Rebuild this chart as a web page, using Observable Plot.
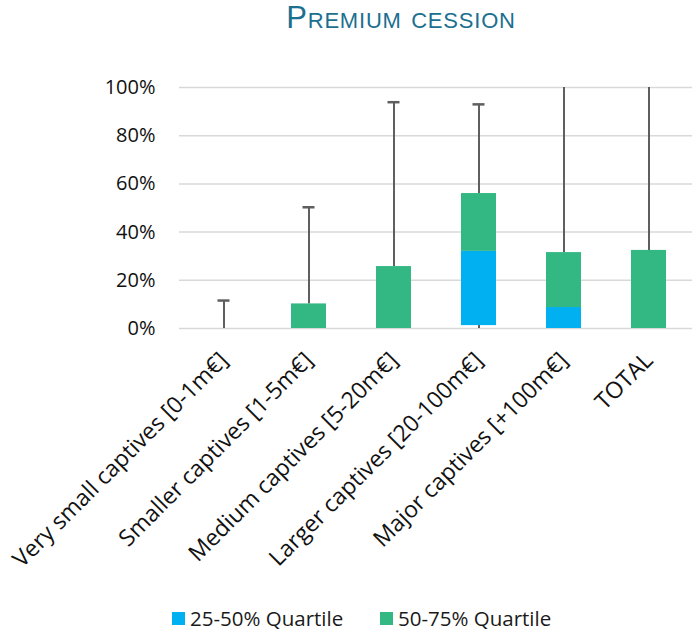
<!DOCTYPE html>
<html>
<head>
<meta charset="utf-8">
<script src="https://cdn.jsdelivr.net/npm/d3@7"></script>
<script src="https://cdn.jsdelivr.net/npm/@observablehq/plot@0.6"></script>
<style>
  body { margin: 0; background: #fff; }
  #wrap { width: 694px; position: relative; }
  #title { position: relative; height: 50px; }
  #title span { position: absolute; left: 401px; top: 2px; transform: translateX(-50%);
    font-family: "Liberation Sans", Arial, sans-serif; font-size: 31px; line-height: 31px; letter-spacing: 0.8px;
    font-variant: small-caps; color: #1B6F8F; white-space: nowrap; }
  #legend { position: relative; height: 36px; font-family: "Open Sans", sans-serif; font-size: 20.5px; color: #1a1a1a; }
  .item { position: absolute; top: 9px; display: flex; align-items: center; white-space: nowrap; }
  .sw { width: 13px; height: 13px; margin-right: 5px; }
</style>
</head>
<body>
<div id="wrap">
  <div id="title"><span>Premium cession</span></div>
  <div id="chart"></div>
  <div id="legend"></div>
</div>
<script>
const categories = ["Very small captives [0-1m€]", "Smaller captives [1-5m€]", "Medium captives [5-20m€]", "Larger captives [20-100m€]", "Major captives [+100m€]", "TOTAL"];
const minimum = [0, 0, 0, 0, 0, 0];
const q1 = [0, 0, 0, 1.2, 0, 0];
const median = [0, 0, 0, 32, 8.7, 0];
const q3 = [0, 10.2, 25.7, 56, 31.5, 32.4];
const maximum = [11.6, 50.3, 93.9, 93, 100, 100];
const yTicks = [0, 20, 40, 60, 80, 100];
const seriesNames = ["25-50% Quartile", "50-75% Quartile"];
const seriesColors = ["#00B0F0", "#33B883"];

const rows = categories.map((c, i) => ({c, min: minimum[i], q1: q1[i], med: median[i], q3: q3[i], max: maximum[i]}));

const chart = Plot.plot({
  width: 694,
  height: 545,
  marginTop: 37,
  marginBottom: 267,
  marginLeft: 179,
  marginRight: 2,
  style: {fontFamily: "'Open Sans', sans-serif", fontSize: "20px", color: "#111", overflow: "visible"},
  x: {domain: categories, paddingInner: 0.59, paddingOuter: 0.295, label: null},
  y: {domain: [0, 100], label: null},
  marks: [
    Plot.ruleY(yTicks, {stroke: "#d9d9d9", strokeWidth: 1.5}),
    Plot.ruleX(rows, {x: "c", y1: "q3", y2: "max", stroke: "#5f5f5f", strokeWidth: 2}),
    Plot.ruleX(rows.filter(d => d.q1 > d.min), {x: "c", y1: "min", y2: "q1", stroke: "#5f5f5f", strokeWidth: 2}),
    Plot.barY(rows, {x: "c", y1: "q1", y2: "med", fill: seriesColors[0]}),
    Plot.barY(rows, {x: "c", y1: "med", y2: "q3", fill: seriesColors[1]}),
    Plot.tickY(rows.filter(d => d.max < 100), {x: "c", y: "max", stroke: "#5f5f5f", strokeWidth: 2.5, insetLeft: 11.5, insetRight: 11.5}),
    Plot.axisY({ticks: yTicks, tickFormat: d => d + "%", tickSize: 0, tickPadding: 24, fontSize: 20, label: null}),
    Plot.axisX({tickRotate: -45, tickSize: 0, tickPadding: 28, fontSize: 23, label: null})
  ]
});
document.getElementById("chart").appendChild(chart);

const legend = document.getElementById("legend");
const lefts = [172, 380];
seriesNames.forEach((n, i) => {
  const it = document.createElement("div");
  it.className = "item";
  it.style.left = lefts[i] + "px";
  it.innerHTML = `<div class="sw" style="background:${seriesColors[i]}"></div><span>${n}</span>`;
  legend.appendChild(it);
});
</script>
</body>
</html>
